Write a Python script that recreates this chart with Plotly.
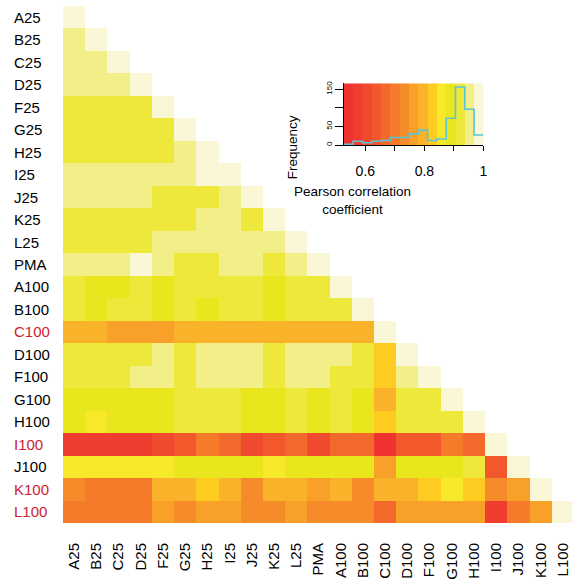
import numpy as np
import plotly.graph_objects as go

labels = ["A25", "B25", "C25", "D25", "F25", "G25", "H25", "I25", "J25", "K25", "L25",
          "PMA", "A100", "B100", "C100", "D100", "F100", "G100", "H100", "I100",
          "J100", "K100", "L100"]
red_labels = ["C100", "I100", "K100", "L100"]

# Lower-triangular Pearson correlations (row i, columns 0..i)
corr_rows = [
    [1.00],
    [.95, 1.00],
    [.95, .95, 1.00],
    [.95, .95, .95, 1.00],
    [.92, .92, .92, .92, 1.00],
    [.92, .92, .92, .92, .92, 1.00],
    [.92, .92, .92, .92, .92, .95, 1.00],
    [.95, .95, .95, .95, .95, .95, .98, 1.00],
    [.95, .95, .95, .95, .92, .92, .92, .95, 1.00],
    [.92, .92, .92, .92, .92, .92, .95, .95, .92, 1.00],
    [.92, .92, .92, .92, .95, .95, .95, .95, .95, .95, 1.00],
    [.95, .95, .95, .98, .95, .92, .92, .95, .95, .92, .95, 1.00],
    [.92, .89, .89, .92, .89, .92, .92, .92, .92, .89, .92, .92, 1.00],
    [.92, .89, .92, .92, .89, .92, .89, .92, .92, .89, .92, .92, .92, 1.00],
    [.80, .80, .76, .76, .76, .80, .80, .80, .80, .80, .80, .80, .80, .80, 1.00],
    [.92, .92, .92, .92, .95, .92, .95, .95, .95, .92, .95, .95, .95, .92, .83, 1.00],
    [.92, .92, .92, .95, .95, .92, .95, .95, .95, .92, .95, .95, .92, .92, .83, .95, 1.00],
    [.89, .89, .89, .89, .89, .92, .92, .92, .89, .89, .92, .89, .92, .89, .80, .92, .92, 1.00],
    [.89, .86, .89, .89, .89, .92, .92, .92, .89, .89, .92, .89, .92, .89, .83, .92, .92, .92, 1.00],
    [.57, .57, .57, .57, .61, .64, .70, .67, .61, .64, .67, .61, .67, .67, .54, .64, .64, .70, .67, 1.00],
    [.86, .86, .86, .86, .86, .89, .89, .89, .89, .86, .89, .89, .89, .89, .76, .89, .89, .89, .92, .64, 1.00],
    [.73, .70, .70, .70, .80, .80, .83, .80, .73, .80, .80, .76, .80, .73, .80, .80, .83, .86, .83, .73, .76, 1.00],
    [.70, .70, .70, .70, .76, .73, .76, .76, .73, .73, .76, .73, .73, .73, .67, .76, .76, .76, .76, .57, .70, .76, 1.00],
]

# colour key bins
key_min, key_max, n_bins = 0.527, 1.0, 15
bin_colors = ["#EE3330", "#EF3E2F", "#F04A2E", "#F2582C", "#F3692B", "#F57A2A",
              "#F68B2A", "#F8A028", "#F9B229", "#FECB21", "#F8E82A", "#EAE61E",
              "#EDE83A", "#F2EE88", "#FAF7D6"]

n = len(labels)
z = [[None] * n for _ in range(n)]
full = np.zeros((n, n))
for i, row in enumerate(corr_rows):
    for j, v in enumerate(row):
        z[i][j] = v
        full[i, j] = v
        full[j, i] = v

colorscale = []
for k, c in enumerate(bin_colors):
    colorscale.append([k / n_bins, c])
    colorscale.append([(k + 1) / n_bins, c])

edges = np.linspace(key_min, key_max, n_bins + 1)
centers = (edges[:-1] + edges[1:]) / 2
counts, _ = np.histogram(full.flatten(), bins=edges)

FONT = "Liberation Sans, Arial, Helvetica, sans-serif"

fig = go.Figure()
fig.add_trace(go.Heatmap(
    z=z, x=list(range(n)), y=list(range(n)), colorscale=colorscale,
    zmin=key_min, zmax=key_max, showscale=False, xgap=0, ygap=0,
    hoverongaps=False,
))
# colour key
fig.add_trace(go.Heatmap(
    z=[list(centers)], x=list(edges), y=[0, 166], colorscale=colorscale,
    zmin=key_min, zmax=key_max, showscale=False, xaxis="x2", yaxis="y2",
))
fig.add_trace(go.Scatter(
    x=list(edges), y=list(counts) + [counts[-1]], mode="lines", line_shape="hv",
    line=dict(color="#5CC3D8", width=1.6), xaxis="x2", yaxis="y2", showlegend=False,
))

W, H = 576, 583
L, R, T, B = 63, 0, 6, 60
pw, ph = W - L - R, H - T - B

def px_x(px):
    return (px - L) / pw

def px_y(py):
    return (H - B - py) / ph

fig.update_layout(
    width=W, height=H, margin=dict(l=L, r=R, t=T, b=B),
    paper_bgcolor="white", plot_bgcolor="white", showlegend=False,
    font=dict(family=FONT, color="black"),
    xaxis=dict(domain=[0, 1], range=[-0.5, 22.41], tickmode="array",
               tickvals=list(range(n)), ticktext=labels, tickangle=-90,
               ticks="", showgrid=False, zeroline=False, showline=False,
               tickfont=dict(size=15), ticklabelstandoff=16),
    yaxis=dict(domain=[0, 1], range=[n - 0.5, -0.5], showticklabels=False,
               ticks="", showgrid=False, zeroline=False, showline=False),
    xaxis2=dict(domain=[px_x(346), px_x(486.7)], anchor="y2", range=[key_min, key_max],
                tickmode="array", tickvals=[0.6, 0.7, 0.8, 0.9, 1.0],
                ticktext=["0.6", "", "0.8", "", "1"], ticks="outside", ticklen=5,
                tickcolor="black", showline=True, linecolor="black", linewidth=1,
                showgrid=False, zeroline=False, tickfont=dict(size=14),
                ticklabelstandoff=8),
    yaxis2=dict(domain=[px_y(145), px_y(83.3)], anchor="x2", range=[0, 166],
                tickmode="array", tickvals=[0, 50, 100, 150],
                ticktext=["0", "50", "", "150"], tickangle=-90, ticks="outside",
                ticklen=8, tickcolor="black", showline=True, linecolor="black",
                linewidth=1, showgrid=False, zeroline=False, tickfont=dict(size=8)),
)

annotations = []
for i, lab in enumerate(labels):
    annotations.append(dict(
        x=px_x(12), y=i, xref="paper", yref="y", text=lab, showarrow=False,
        xanchor="left", yanchor="middle",
        font=dict(size=15, color="#CC2233" if lab in red_labels else "black"),
    ))
annotations.append(dict(x=px_x(295), y=px_y(113), xref="paper", yref="paper",
                        text="Frequency", textangle=-90, showarrow=False,
                        font=dict(size=13.5)))
annotations.append(dict(x=px_x(416), y=px_y(200), xref="paper", yref="paper",
                        text="Pearson correlation<br>coefficient", showarrow=False,
                        font=dict(size=13.5)))
fig.update_layout(annotations=annotations)

fig.write_html("out.html")
